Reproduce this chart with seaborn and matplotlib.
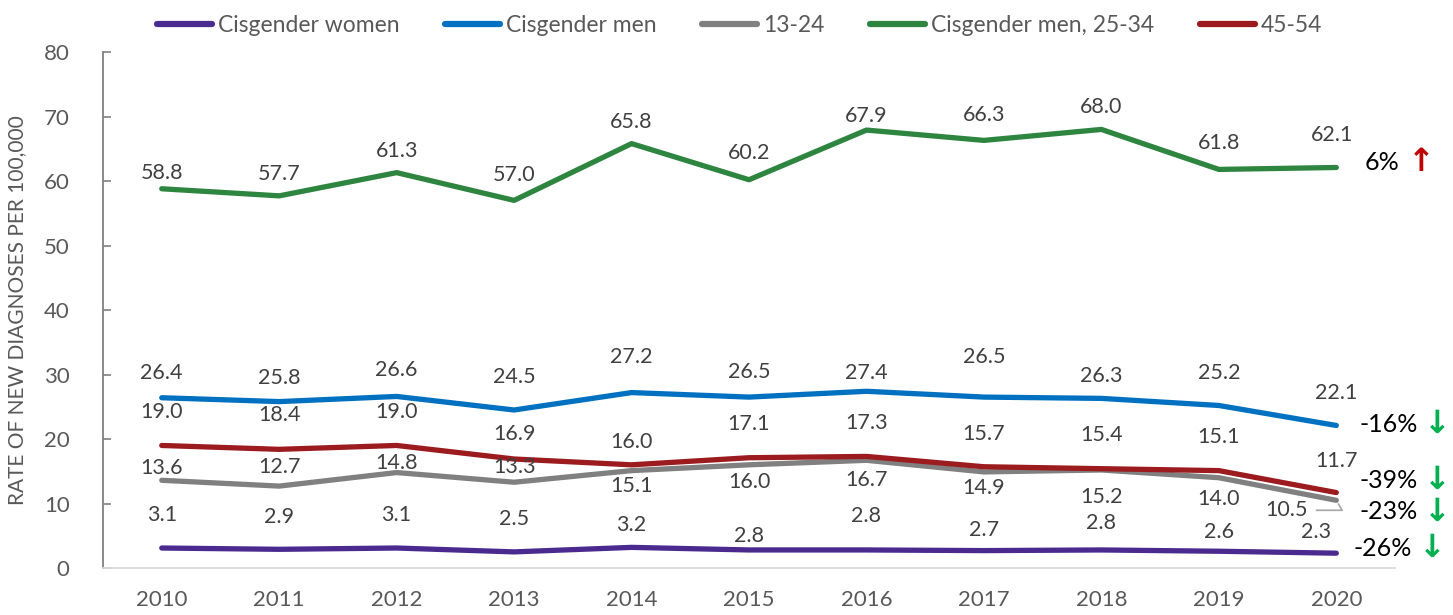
import matplotlib
matplotlib.use("Agg")
import matplotlib.pyplot as plt
import seaborn as sns
import pandas as pd

# --- data (rate of new diagnoses per 100,000) ---
years = list(range(2010, 2021))
series_names = ["Cisgender women", "Cisgender men", "13-24", "Cisgender men, 25-34", "45-54"]
cis_women = [3.1, 2.9, 3.1, 2.5, 3.2, 2.8, 2.8, 2.7, 2.8, 2.6, 2.3]
cis_men = [26.4, 25.8, 26.6, 24.5, 27.2, 26.5, 27.4, 26.5, 26.3, 25.2, 22.1]
age_13_24 = [13.6, 12.7, 14.8, 13.3, 15.1, 16.0, 16.7, 14.9, 15.2, 14.0, 10.5]
cis_men_25_34 = [58.8, 57.7, 61.3, 57.0, 65.8, 60.2, 67.9, 66.3, 68.0, 61.8, 62.1]
age_45_54 = [19.0, 18.4, 19.0, 16.9, 16.0, 17.1, 17.3, 15.7, 15.4, 15.1, 11.7]
changes = ["-26%", "-16%", "-23%", "6%", "-39%"]

values = [cis_women, cis_men, age_13_24, cis_men_25_34, age_45_54]
colors = ["#4B2A8F", "#0070C0", "#808080", "#2E8540", "#9B1B1F"]

# label offsets in pixels (vertical), picked by eye from the original
label_dy = [
    [33, 32, 33, 33, 22, 14, 34, 21, 27, 19, 21],
    [25, 24, 26, 33, 36, 25, 18, 40, 22, 32, 32],
    [12, 19, 10, 15, -15, -17, -20, -16, -27, -21, -10],
    [16, 22, 22, 25, 22, 27, 14, 25, 22, 26, 32],
    [33, 34, 33, 25, 23, 34, 33, 33, 34, 34, 32],
]
label_dx = [
    [0] * 10 + [-20],
    [0] * 11,
    [0] * 10 + [-50],
    [0] * 10 + [-4],
    [0] * 11,
]
# where the "% change" notes sit (data y)
change_y = [3.1, 22.2, 8.7, 62.9, 13.6]
change_x = [10.15, 10.2, 10.2, 10.24, 10.2]
arrow_x = [10.82, 10.86, 10.86, 10.72, 10.86]

rows = []
for name, vals in zip(series_names, values):
    for y, v in zip(years, vals):
        rows.append({"year": y, "rate": v, "series": name})
df = pd.DataFrame(rows)

sns.set_style("white")
plt.rcParams["font.family"] = ["Lato", "DejaVu Sans"]

fig = plt.figure(figsize=(14.53, 6.15), dpi=100)
ax = fig.add_axes([0.0709, 0.0764, 0.8892, 0.839])

sns.lineplot(data=df, x="year", y="rate", hue="series", hue_order=series_names,
             palette=colors, linewidth=3.8, ax=ax, solid_capstyle="round")

for i, vals in enumerate(values):
    for j, (y, v) in enumerate(zip(years, vals)):
        dx, dy = label_dx[i][j], label_dy[i][j]
        if i == 2 and j == 10:
            # leader line back to the 2020 point
            ax.annotate(f"{v:.1f}", xy=(y, v), xytext=(dx, dy), textcoords="offset pixels",
                        ha="center", va="center", fontsize=15.5, color="#404040",
                        arrowprops=dict(arrowstyle="-", color="#A6A6A6", lw=1.2,
                                        shrinkA=4, shrinkB=3, relpos=(1.0, 0.5),
                                        connectionstyle="angle,angleA=0,angleB=-60,rad=0"))
        else:
            ax.annotate(f"{v:.1f}", xy=(y, v), xytext=(dx, dy), textcoords="offset pixels",
                        ha="center", va="center", fontsize=15.5, color="#404040")

for i, txt in enumerate(changes):
    up = not txt.startswith("-")
    ax.text(years[0] + change_x[i], change_y[i], txt, ha="left", va="center",
            fontsize=18, color="black", clip_on=False)
    ax.text(years[0] + arrow_x[i], change_y[i], "↑" if up else "↓", ha="center", va="center",
            fontsize=23, fontweight="bold", color="#C00000" if up else "#00B050",
            clip_on=False, family=["DejaVu Sans"])

ax.set_xlim(2009.5, 2020.5)
ax.set_ylim(0, 80)
ax.set_xticks(years)
ax.set_yticks(range(0, 81, 10))
ax.tick_params(axis="x", length=0, pad=16, labelsize=16, labelcolor="#595959")
ax.tick_params(axis="y", direction="in", length=6, width=1.2, color="#808080",
               pad=24, labelsize=16, labelcolor="#595959", left=True)
ax.set_xlabel("")
ax.set_ylabel("RATE OF NEW DIAGNOSES PER 100,000", fontsize=15, color="#595959", labelpad=12)

sns.despine(ax=ax, top=True, right=True)
ax.spines["left"].set_color("#808080")
ax.spines["left"].set_linewidth(1.3)
ax.spines["bottom"].set_color("#D9D9D9")
ax.spines["bottom"].set_linewidth(1.3)
ax.grid(False)

handles, labels = ax.get_legend_handles_labels()
ax.get_legend().remove()
leg = fig.legend(handles, labels, loc="center", bbox_to_anchor=(0.509, 0.959), ncol=5,
                 frameon=False, fontsize=16.5, handlelength=2.4, handletextpad=0.25,
                 columnspacing=2.0)
for t in leg.get_texts():
    t.set_color("#595959")
for h in leg.get_lines():
    h.set_linewidth(4.5)
    h.set_solid_capstyle("round")

fig.savefig("out.png", dpi=100)
